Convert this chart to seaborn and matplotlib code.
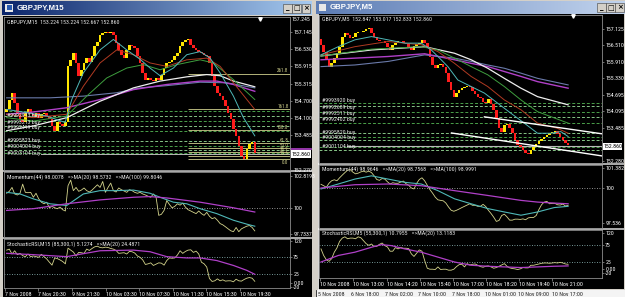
import numpy as np
import matplotlib
matplotlib.use("Agg")
import matplotlib.pyplot as plt
import seaborn as sns
from matplotlib.patches import Rectangle
from matplotlib.colors import LinearSegmentedColormap
from matplotlib import font_manager

# ---------------------------------------------------------------- data
# left window GBPJPY,M15
L_CLOSE = [154.40,154.75,154.99,154.64,154.29,154.05,153.94,154.29,154.40,154.23,
           154.17,154.29,154.11,154.23,154.29,154.17,154.05,153.82,153.65,153.94,
           153.88,153.82,153.94,155.92,156.15,156.38,156.04,155.57,155.80,156.04,
           156.21,156.09,156.27,156.62,156.79,157.03,157.08,157.14,157.08,157.14,
           157.03,156.73,156.50,156.33,156.21,156.50,156.68,156.62,156.56,156.27,
           156.04,155.69,155.45,155.51,155.45,155.40,155.51,155.45,155.63,155.86,
           156.04,156.09,156.15,156.27,156.38,156.62,156.79,156.85,156.87,156.68,
           156.56,156.50,156.44,156.38,156.33,156.27,156.04,155.57,155.22,154.99,
           154.87,154.75,154.52,154.29,154.05,153.70,153.47,153.12,152.77,152.66,
           153.00,153.18,153.24,152.86]
L_FIRST_OPEN = 154.30
L_MA_CYAN = ([0, 7.5, 15, 21.9, 24.4, 28.75, 35, 40, 45, 50, 53.75, 57.5, 62.5, 67.5, 72.5, 76.25, 80, 85, 88.75, 93],
             [154.40, 154.29, 154.17, 153.94, 154.75, 155.69, 156.50, 156.87, 156.50, 156.17, 155.86, 155.59,
              155.86, 156.33, 156.44, 156.21, 155.69, 154.87, 154.11, 153.47])
L_MA_RED = ([0, 10, 22.5, 28.75, 35, 41.25, 47.5, 53.75, 60, 67.5, 75, 80, 85, 93],
            [154.23, 154.11, 154.23, 155.22, 156.04, 156.50, 156.33, 156.04, 155.92, 156.15, 156.21, 155.92, 155.34, 154.40])
L_MA_GREEN = ([0, 10, 22.5, 30, 37.5, 45, 51.25, 57.5, 63.75, 72.5, 77.5, 85, 93],
              [154.11, 153.99, 154.17, 154.87, 155.51, 155.86, 155.98, 155.80, 155.98, 156.15, 156.04, 155.45, 154.75])
L_MA_WHITE = ([0, 10, 22.5, 35, 47.5, 57.5, 67.5, 75, 80, 85, 93],
              [153.65, 153.82, 154.11, 154.69, 155.16, 155.40, 155.55, 155.63, 155.59, 155.40, 155.20])
L_MA_PURPLE = ([0, 10, 22.5, 35, 47.5, 60, 72.5, 78.75, 85, 93],
               [154.23, 154.31, 154.46, 154.75, 155.10, 155.28, 155.40, 155.40, 155.28, 155.04])
L_MA_SLATE = ([0, 16.25, 28.75, 41.25, 50, 60, 72.5, 82.5, 93],
              [154.81, 154.81, 154.87, 154.99, 155.16, 155.24, 155.36, 155.34, 155.16])
L_ORDERS = [154.34, 154.17, 153.99, 153.82, 153.64, 153.27, 153.12, 152.98, 152.86]
L_ORDER_TXT = ["#9992913 buy", "#9993213 buy", "#9992419 buy", "#9995823 buy", "#9004004 buy", "#9003104 buy"]
L_ORDER_TXT_Y = [154.19, 153.95, 153.77, 153.32, 153.11, 152.83]
L_FIB = [155.66, 154.40, 153.67, 153.21, 153.04, 152.90, 152.76, 152.65]
L_FIB_TXT = ["261.8", "161.8", "100.0", "61.8", "50.0", "38.2", "23.6", "0.0"]
L_FIB_START = 68
L_PRICE_TICKS = [157.145, 156.530, 155.915, 155.315, 154.700, 154.100, 153.485, 152.270]
L_MOM = [101.30,101.47,101.81,101.24,101.15,101.30,102.10,101.38,101.35,101.38,
         100.95,101.30,100.81,100.52,100.38,100.52,100.03,100.15,100.03,99.95,
         100.09,99.86,99.75,101.96,102.45,101.53,101.81,101.47,101.58,101.76,
         101.53,101.41,101.58,101.81,102.04,101.81,102.33,101.38,101.81,102.19,
         101.53,101.41,101.76,101.61,101.50,101.38,101.61,101.53,101.38,101.30,
         101.38,101.24,101.15,101.04,100.95,101.24,100.95,99.37,99.46,99.80,
         100.66,100.32,100.03,100.15,100.38,100.26,100.44,100.09,99.86,99.75,
         99.63,99.52,99.75,99.52,99.37,99.63,99.29,99.08,99.17,98.94,
         98.65,98.54,98.37,98.19,98.02,97.94,98.31,97.94,98.19,98.31,
         98.42,98.48,98.31,98.01]
L_MOM_MA20 = ([0, 5, 10, 16.25, 22.5, 28.75, 35, 41.25, 47.5, 53.75, 57.5, 62.5, 67.5, 72.5, 78.75, 85, 90, 93],
              [101.38, 101.24, 100.81, 100.38, 100.23, 101.24, 101.53, 101.53, 101.58, 101.30, 100.95, 100.52,
               100.38, 99.95, 99.52, 98.94, 98.60, 98.42])
L_MOM_MA100 = ([0, 10, 22.5, 35, 47.5, 53.75, 60, 72.5, 85, 93],
               [99.80, 99.95, 100.38, 100.72, 100.95, 101.01, 100.89, 100.52, 100.03, 99.66])
L_STOCH = [93.5,96.3,82.4,91.7,80.6,84.3,77.8,75.0,82.4,75.0,
           76.9,75.0,73.1,81.5,75.0,68.5,59.3,50.9,71.3,69.4,
           65.7,61.1,54.6,99.1,93.5,88.0,76.9,87.0,86.1,84.3,
           96.3,92.6,98.1,102.8,104.6,100.9,100.0,101.9,100.9,98.1,
           96.3,92.6,84.3,85.2,86.1,82.4,89.8,88.9,85.2,76.9,
           73.1,65.7,52.8,54.6,57.4,50.0,53.7,57.4,56.5,50.9,
           63.9,71.3,70.4,71.3,79.6,91.7,84.3,89.8,93.5,94.4,
           87.0,90.7,82.4,59.3,54.6,45.4,13.0,4.6,6.5,12.0,
           6.5,9.3,5.6,6.5,6.5,3.7,11.1,6.5,5.6,10.2,
           13.9,15.7,13.9,5.1]
L_STOCH_MA = ([0, 10, 22.5, 35, 47.5, 53.75, 60, 67.5, 72.5, 78.75, 85, 90, 93],
              [84.3, 80.6, 75.0, 91.7, 93.5, 88.9, 75.0, 71.3, 71.3, 63.9, 50.0, 36.1, 25.0])
L_XLBL = ["7 Nov 2008", "7 Nov 20:30", "9 Nov 21:30", "10 Nov 03:30", "10 Nov 07:30",
          "10 Nov 11:30", "10 Nov 15:30", "10 Nov 19:30"]
L_XPOS = [-0.6, 11.8, 24.5, 37.2, 49.6, 62.4, 74.7, 87.5]

# right window GBPJPY,M5
R_CLOSE = [156.53,156.28,155.98,155.73,155.85,156.04,156.22,156.46,156.83,156.95,
           156.89,156.77,156.83,156.95,156.98,157.01,157.05,157.10,157.14,156.95,
           156.81,156.71,156.65,156.68,156.61,156.46,156.34,156.53,156.61,156.65,
           156.68,156.61,156.56,156.46,156.32,156.49,156.56,156.61,156.71,156.59,
           156.40,156.10,155.79,155.67,155.79,155.83,155.73,155.49,155.18,154.88,
           154.63,154.78,154.88,154.94,154.98,155.02,154.98,154.82,154.73,154.63,
           154.57,154.45,154.41,154.54,154.36,154.15,153.84,153.47,153.35,153.60,
           153.63,153.47,153.31,153.05,152.86,152.78,152.66,152.58,152.53,152.66,
           152.80,152.90,152.99,153.07,153.17,153.23,153.29,153.31,153.39,153.27,
           153.17,153.05,152.95,152.86]
R_FIRST_OPEN = 156.75
R_MA_CYAN = ([0, 6.5, 12.75, 19, 25.25, 31.5, 37.75, 41.5, 44, 47.75, 51.5, 56.5, 61.5, 66.5, 71.5, 76.5, 81.5, 86.5, 90.25, 93],
             [156.16, 156.46, 156.71, 156.83, 156.71, 156.59, 156.59, 156.34, 156.10, 155.73, 155.24, 155.00,
              154.76, 154.39, 154.02, 153.66, 153.29, 153.29, 153.35, 153.17])
R_MA_RED = ([0, 12.75, 25.25, 37.75, 44, 50.25, 56.5, 62.75, 69, 75.25, 81.5, 89, 93],
            [156.16, 156.46, 156.65, 156.53, 156.28, 155.85, 155.37, 155.00, 154.51, 154.15, 153.66, 153.47, 153.29])
R_MA_GREEN = ([0, 19, 37.75, 44, 50.25, 56.5, 62.75, 69, 75.25, 81.5, 93],
              [156.12, 156.37, 156.46, 156.34, 156.04, 155.73, 155.43, 155.00, 154.51, 154.08, 153.66])
R_MA_WHITE = ([0, 19, 39, 50.25, 56.5, 62.75, 69, 75.25, 81.5, 93],
              [156.12, 156.34, 156.46, 156.22, 155.98, 155.67, 155.30, 154.94, 154.63, 154.33])
R_MA_PURPLE = ([0, 12.75, 25.25, 39, 50.25, 56.5, 62.75, 69, 75.25, 81.5, 93],
               [155.98, 156.04, 156.10, 156.20, 155.98, 155.85, 155.73, 155.55, 155.37, 155.18, 154.94])
R_MA_SLATE = ([0, 12.75, 25.25, 39, 50.25, 56.5, 62.75, 69, 75.25, 81.5, 93],
              [155.73, 155.79, 155.92, 156.16, 156.04, 155.92, 155.79, 155.67, 155.49, 155.30, 155.06])
R_ORDERS = [154.39, 154.27, 154.08, 153.90, 153.68, 153.29, 153.17, 153.05, 152.80, 152.68]
R_ORDER_TXT = ["#9993920 buy", "#9992609 buy", "#9992511 buy", "#9992402 buy",
               "#9995820 buy", "#9004004 buy", "#9001104 buy"]
R_ORDER_TXT_Y = [154.50, 154.24, 154.02, 153.81, 153.31, 153.13, 152.80]
R_TREND_UP = ([61.5, 105.7], [153.89, 153.27])
R_TREND_LO = ([49.1, 105.7], [153.30, 152.46])
R_PRICE_TICKS = [157.125, 156.510, 155.910, 155.330, 154.695, 154.095, 153.485, 152.280]
R_MOM = [100.26,100.16,100.05,100.33,100.51,100.58,100.51,100.72,100.91,101.09,
         101.26,101.30,101.12,101.00,101.05,101.14,101.19,101.12,101.19,101.09,
         100.86,100.60,100.54,100.67,100.63,100.44,100.28,100.37,100.33,100.33,
         100.42,100.49,100.30,100.19,100.00,99.93,100.33,100.60,100.72,100.51,
         100.19,99.88,99.63,99.35,99.16,99.12,99.09,98.93,98.65,98.42,
         98.35,98.42,98.51,98.61,98.70,98.79,98.88,98.77,98.77,98.70,
         98.70,98.84,98.68,98.42,98.19,97.93,97.63,97.70,98.05,98.14,
         97.95,97.72,97.72,97.79,97.79,97.77,97.81,97.75,97.88,97.91,
         97.91,98.05,98.47,98.81,99.00,99.05,98.88,98.91,98.91,98.81,
         98.79,98.86,98.72,98.77]
R_MOM_MA20 = ([0, 6.5, 12.75, 19, 25.25, 31.5, 37.75, 44, 50.25, 56.5, 62.75, 69, 75.25, 81.5, 87.75, 93],
              [99.93, 100.28, 100.63, 100.86, 100.63, 100.40, 100.28, 99.81, 99.23, 98.88, 98.54, 98.30,
               98.07, 98.30, 98.61, 98.70])
R_MOM_MA100 = ([0, 12.75, 25.25, 37.75, 50.25, 62.75, 75.25, 81.5, 87.75, 93],
               [100.00, 100.23, 100.28, 100.16, 99.81, 99.47, 99.12, 99.00, 98.93, 98.88])
R_STOCH = [63.5,44.2,31.7,26.9,34.6,53.8,66.3,85.6,95.2,99.0,
           93.3,95.2,95.2,93.3,99.0,96.2,87.5,78.8,74.0,77.9,
           70.2,71.2,76.9,80.8,73.1,69.2,56.7,56.7,67.3,63.5,
           67.3,65.4,65.4,64.4,49.0,41.3,51.0,60.6,56.7,29.8,
           6.7,3.8,3.8,2.9,10.6,2.9,3.8,3.8,1.0,1.0,
           3.8,11.5,17.3,18.3,10.6,20.2,16.3,18.3,19.2,15.4,
           11.5,9.6,12.5,13.5,10.6,6.7,8.7,12.5,16.3,20.2,
           12.5,7.7,5.8,4.8,2.9,4.8,8.7,7.7,7.7,15.4,
           15.4,17.3,19.2,21.2,22.1,22.1,21.2,22.1,23.1,22.1,
           24.0,22.1,19.2,18.3]
R_STOCH_MA = ([0, 6.5, 12.75, 19, 22.75, 26.5, 31.5, 37.75, 44, 50.25, 56.5, 62.75, 69, 75.25, 81.5, 87.75, 93],
              [25.0, 44.2, 53.8, 68.3, 76.0, 73.1, 63.5, 53.8, 39.4, 25.0, 15.4, 12.5, 10.6, 8.7, 10.6, 12.5, 13.5])
R_XLBL = ["10 Nov 2008", "10 Nov 13:00", "10 Nov 14:20", "10 Nov 15:40", "10 Nov 17:00",
          "10 Nov 18:20", "10 Nov 19:40", "10 Nov 21:00"]
R_XPOS = [-0.4, 12.0, 24.7, 37.1, 49.5, 62.2, 74.6, 87.0]
BG_XLBL = ["5 Nov 2008", "6 Nov 18:00", "7 Nov 02:00", "7 Nov 10:00", "7 Nov 18:00",
           "10 Nov 01:00", "10 Nov 09:00", "10 Nov 17:00"]

# ---------------------------------------------------------------- style
_names = {f.name for f in font_manager.fontManager.ttflist}
_narrow = [n for n in ['Liberation Sans Narrow', 'DejaVu Sans Condensed', 'Roboto Condensed'] if n in _names]
NARROW = _narrow[:1] + ['Liberation Sans', 'DejaVu Sans']
plt.rcParams['font.family'] = NARROW
FS = 4.2 if _narrow else 3.7
UP, DOWN = '#ffe600', '#ff1c1c'
C_CYAN, C_RED, C_GREEN = '#4fb8b8', '#b03a22', '#3e9e3e'
C_WHITE, C_PURPLE, C_SLATE = '#eeeeee', '#b040c8', '#6a7aaa'
C_OSC = '#d4d48c'

W, H = 625, 297
fig = plt.figure(figsize=(W / 100, H / 100), dpi=100)
fig.patch.set_facecolor('#d4d0c8')
bg = fig.add_axes([0, 0, 1, 1])
bg.axis('off')


def rect(x0, y0, x1, y1, color, **kw):
    bg.add_patch(Rectangle((x0, y0), x1 - x0, y1 - y0, facecolor=color, edgecolor='none', **kw))


def gradient(x0, y0, x1, y1, c0, c1):
    cmap = LinearSegmentedColormap.from_list('g', [c0, c1])
    bg.imshow(np.linspace(0, 1, 256)[None, :], extent=(x0, x1, y1, y0), cmap=cmap,
              aspect='auto', interpolation='bilinear')


def button(x, y, glyph):
    bg.add_patch(Rectangle((x, y), 8.5, 9, facecolor='#d4d0c8', edgecolor='#404040', lw=0.4))
    bg.text(x + 4.25, y + 4.6, glyph, ha='center', va='center', fontsize=5, color='black',
            fontweight='bold', family=['DejaVu Sans'])


# window chrome ------------------------------------------------------------
gradient(2, 1, 312, 15, '#0a246a', '#a6caf0')
rect(5, 3.5, 13, 11.5, '#e8e8e8')
rect(6.5, 5, 11.5, 10, '#2a5ab0')
bg.text(17, 8.3, "GBPJPY,M15", color='white', fontsize=5.6, fontweight='bold',
        va='center', family=['Liberation Sans', 'DejaVu Sans'])
for k, g in enumerate(['_', '□', '×']):
    button(283 + 9.3 * k, 3.5, g)
rect(3, 16, 312, 297, 'black')

gradient(316, 1, 625, 14, '#5c7cb4', '#c2d4ee')
rect(319, 3.5, 326, 10.5, '#e8e8e8')
bg.text(330, 7.8, "GBPJPY,M5", color='white', fontsize=5.6, fontweight='bold',
        va='center', family=['Liberation Sans', 'DejaVu Sans'])
for k, g in enumerate(['_', '□', '×']):
    button(597 + 9.2 * k, 3, g)
rect(318, 14, 624, 289, 'black')
bg.plot([317.5, 317.5], [14, 289], color='white', lw=0.6)
rect(316, 290, 625, 297, '#f4f4f4')
bg.plot([315.5, 315.5], [290, 297], color='#202020', lw=0.6)
for k, s in enumerate(BG_XLBL):
    bg.text(318 + 33.4 * k, 294.2, s, fontsize=FS, color='#202020', va='center', ha='left')

# panel separators
SEP = '#a8a8a8'
rect(3, 170.3, 312, 171.8, SEP)
rect(3, 237.2, 312, 238.7, SEP)
rect(318, 163.3, 624, 164.8, SEP)
rect(318, 228.2, 624, 229.7, SEP)

# current price markers in the label columns
bg.plot([291, 311], [149.2, 149.2], color=C_PURPLE, lw=1.2)
rect(291, 150.3, 311, 158, 'white')
bg.text(301, 154.3, "152.860", fontsize=FS, color='black', ha='center', va='center')
rect(603, 142.5, 622, 150, 'white')
bg.text(612.5, 146.3, "152.860", fontsize=FS, color='black', ha='center', va='center')
bg.text(292, 19.5, "157.245", fontsize=FS, color='white', va='center')

bg.set_xlim(0, W)
bg.set_ylim(H, 0)


def pax(x0, y0, x1, y1):
    ax = fig.add_axes([x0 / W, 1 - y1 / H, (x1 - x0) / W, (y1 - y0) / H])
    ax.set_facecolor('black')
    for s in ax.spines.values():
        s.set_color('#8c8c8c')
        s.set_linewidth(0.6)
    ax.set_xticks([])
    ax.yaxis.tick_right()
    ax.tick_params(axis='y', colors='#9a9a9a', labelcolor='white', labelsize=FS,
                   length=1.5, width=0.5, pad=0.8)
    return ax


def candles(ax, closes, first_open):
    c = np.asarray(closes)
    o = np.r_[first_open, c[:-1]]
    i = np.arange(len(c))
    up = c >= o
    lo = np.minimum(o, c)
    h = np.maximum(np.abs(c - o), 0.03)
    ax.bar(i[up], h[up], bottom=lo[up], width=0.95, color=UP, linewidth=0, zorder=2)
    ax.bar(i[~up], h[~up], bottom=lo[~up], width=0.95, color=DOWN, linewidth=0, zorder=2)


def line(ax, xy, color, lw=0.7, z=3):
    sns.lineplot(x=xy[0], y=xy[1], ax=ax, color=color, lw=lw, legend=False, zorder=z,
                 estimator=None, sort=False)


def finish(ax):
    ax.set_xlabel('')
    ax.set_ylabel('')


def ticks(ax, vals, labels):
    ax.set_yticks(vals)
    ax.set_yticklabels(labels)


# ================================================================ LEFT
LP = pax(4, 17, 290, 170)
LP.set_xlim(-1, 106.2)
LP.set_ylim(152.265, 157.66)
for k, p in enumerate(L_ORDERS):
    LP.axhline(p, color='#4aa04a' if k % 2 == 0 else '#86c486', lw=0.7, ls=(0, (3, 2)), zorder=1)
LP.axhline(152.83, xmin=0.13, color='#b8b8b8', lw=0.7, zorder=1)
for k, (p, s) in enumerate(zip(L_FIB, L_FIB_TXT)):
    LP.hlines(p, L_FIB_START, 106.2, color='#b4b47a', lw=0.7, zorder=1)
    last = k == len(L_FIB) - 1
    LP.text(105.6, p - 0.02 if last else p + 0.012, s, color='#d6d690', fontsize=FS * 0.85,
            ha='right', va='top' if last else 'bottom', zorder=5)
for p, s in zip(L_ORDER_TXT_Y, L_ORDER_TXT):
    LP.text(0.3, p, s, color='#e6e6e6', fontsize=FS, va='center', ha='left', zorder=5)
candles(LP, L_CLOSE, L_FIRST_OPEN)
line(LP, L_MA_SLATE, C_SLATE, 0.8)
line(LP, L_MA_PURPLE, C_PURPLE, 1.0)
line(LP, L_MA_WHITE, C_WHITE, 0.9)
line(LP, L_MA_GREEN, C_GREEN)
line(LP, L_MA_RED, C_RED)
line(LP, L_MA_CYAN, C_CYAN)
ticks(LP, L_PRICE_TICKS, [f"{v:.3f}" for v in L_PRICE_TICKS])
LP.text(0.0105, 0.965, "GBPJPY,M15  153.224 153.224 152.667 152.860", transform=LP.transAxes,
        color='#e6e6e6', fontsize=FS, va='center', zorder=6)
LP.plot([0.895], [0.985], marker='v', color='white', ms=2.5, transform=LP.transAxes, clip_on=False, zorder=6)
finish(LP)

LM = pax(4, 172, 290, 237)
LM.set_xlim(-1, 106.2)
LM.set_ylim(97.475, 103.16)
LM.axhline(100, color='#c0c0c0', lw=0.6, ls=(0, (1, 2)))
line(LM, (list(range(len(L_MOM))), L_MOM), C_OSC, 0.6)
line(LM, L_MOM_MA20, C_CYAN, 0.8)
line(LM, L_MOM_MA100, C_PURPLE, 0.9)
ticks(LM, [102.8193, 100, 97.7337], ["102.8193", "100", "97.7337"])
LM.text(0.0105, 0.92, "Momentum(44) 98.0078   =>MA(20) 98.5732   =>MA(100) 99.8046",
        transform=LM.transAxes, color='#e6e6e6', fontsize=FS, va='center')
finish(LM)

LS = pax(4, 239, 290, 288)
LS.set_xlim(-1, 106.2)
LS.set_ylim(-13.9, 125)
for lv in (75, 25):
    LS.axhline(lv, color='#9cc8c8', lw=0.6, ls=(0, (1, 2)))
line(LS, (list(range(len(L_STOCH))), L_STOCH), C_OSC, 0.6)
line(LS, L_STOCH_MA, C_PURPLE, 0.9)
ticks(LS, [120, 75, 25, 1, -10], ["120", "75", "25", "0.00", "-20"])
LS.text(0.0105, 0.895, "StochasticRSI,M15 (85,300,1) 5.1274   =>MA(20) 24.4871",
        transform=LS.transAxes, color='#e6e6e6', fontsize=FS, va='center')
LS.set_xticks(L_XPOS)
LS.set_xticklabels(L_XLBL, ha='left')
LS.tick_params(axis='x', colors='#9a9a9a', labelcolor='white', labelsize=FS, length=2, width=0.5, pad=1)
finish(LS)

# ================================================================ RIGHT
RP = pax(319, 15, 602, 163)
RP.set_xlim(-0.75, 105.75)
RP.set_ylim(152.20, 157.62)
for k, p in enumerate(R_ORDERS):
    RP.axhline(p, color='#4aa04a' if k % 2 == 0 else '#86c486', lw=0.7, ls=(0, (3, 2)), zorder=1)
RP.axhline(152.84, xmin=0.1, color='#b8b8b8', lw=0.8, zorder=1)
for p, s in zip(R_ORDER_TXT_Y, R_ORDER_TXT):
    RP.text(0.4, p, s, color='#e6e6e6', fontsize=FS, va='center', ha='left', zorder=5)
candles(RP, R_CLOSE, R_FIRST_OPEN)
line(RP, R_MA_SLATE, C_SLATE, 0.8)
line(RP, R_MA_PURPLE, C_PURPLE, 1.0)
line(RP, R_MA_WHITE, C_WHITE, 0.9)
line(RP, R_MA_GREEN, C_GREEN)
line(RP, R_MA_RED, C_RED)
line(RP, R_MA_CYAN, C_CYAN)
line(RP, R_TREND_UP, 'white', 1.0, 4)
line(RP, R_TREND_LO, 'white', 1.0, 4)
ticks(RP, R_PRICE_TICKS, [f"{v:.3f}" for v in R_PRICE_TICKS])
RP.text(0.0106, 0.972, "GBPJPY,M5  152.847 153.017 152.833 152.860", transform=RP.transAxes,
        color='#e6e6e6', fontsize=FS, va='center', zorder=6)
RP.plot([0.898], [0.995], marker='v', color='white', ms=2.5, transform=RP.transAxes, clip_on=False, zorder=6)
finish(RP)

RM = pax(319, 165, 602, 228)
RM.set_xlim(-0.75, 105.75)
RM.set_ylim(97.164, 101.627)
RM.axhline(100, color='#c0c0c0', lw=0.6, ls=(0, (1, 2)))
line(RM, (list(range(len(R_MOM))), R_MOM), C_OSC, 0.6)
line(RM, R_MOM_MA20, C_CYAN, 0.8)
line(RM, R_MOM_MA100, C_PURPLE, 0.9)
ticks(RM, [101.382, 100, 97.536], ["101.382", "100", "97.536"])
RM.text(0.0106, 0.935, "Momentum(44) 98.9646   =>MA(20) 98.7568   =>MA(100) 98.9991",
        transform=RM.transAxes, color='#e6e6e6', fontsize=FS, va='center')
finish(RM)

RS = pax(319, 230, 602, 278)
RS.set_xlim(-0.75, 105.75)
RS.set_ylim(-22, 119)
for lv in (75, 25):
    RS.axhline(lv, color='#9cc8c8', lw=0.6, ls=(0, (1, 2)))
line(RS, (list(range(len(R_STOCH))), R_STOCH), C_OSC, 0.6)
line(RS, R_STOCH_MA, C_PURPLE, 0.9)
ticks(RS, [110, 75, 25, 4, -8], ["120", "75", "25", "0.00", "-20"])
RS.text(0.0106, 0.935, "StochasticRSI,M5 (55,300,1) 10.7955   =>MA(20) 13.1183",
        transform=RS.transAxes, color='#e6e6e6', fontsize=FS, va='center')
RS.set_xticks(R_XPOS)
RS.set_xticklabels(R_XLBL, ha='left')
RS.tick_params(axis='x', colors='#9a9a9a', labelcolor='white', labelsize=FS, length=2, width=0.5, pad=1)
finish(RS)

fig.savefig("out.png", dpi=100, facecolor=fig.get_facecolor())
